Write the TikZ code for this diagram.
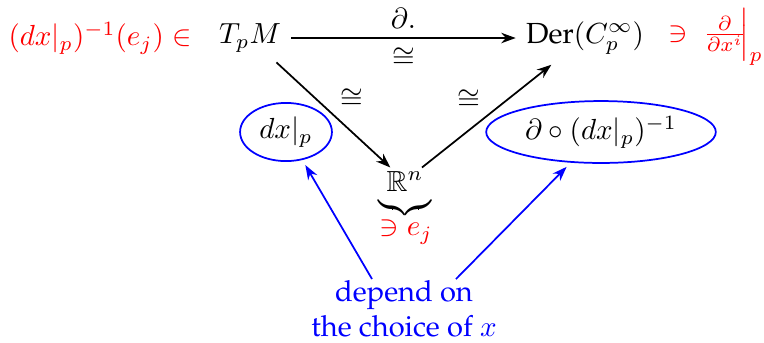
\documentclass[tikz,border=0pt]{standalone}
\usepackage[T1]{fontenc}
\renewcommand{\rmdefault}{ppl}
\usepackage{amsmath,amssymb}
\usetikzlibrary{arrows.meta,shapes.geometric}
\definecolor{myred}{RGB}{255,0,0}
\definecolor{myblue}{RGB}{0,0,255}
\begin{document}
\begin{tikzpicture}[x=0.344pt,y=-0.344pt,
  blk/.style={-{Stealth[length=5pt,width=3.6pt]},semithick},
  blu/.style={-{Stealth[length=5pt,width=3.6pt]},semithick,myblue},
  ell/.style={draw=myblue,semithick,ellipse,inner sep=0pt},
  lab/.style={inner sep=3pt}]
\useasboundingbox (0,0) rectangle (764,342);
\node (T) at (250,38) {$T_pM$};
\node (D) at (585,38) {$\text{Der}(C^\infty_p)$};
\node[inner sep=1pt] (R) at (405,181) {$\mathbb{R}^n$};
\node[myred] (L) at (100,38) {$(dx|_p)^{-1}(e_j)\in$};
\node[myred,anchor=west,inner sep=0pt] (Rt) at (668,37) {$\ni\ \frac{\partial}{\partial x^i}\mkern-4mu\Big|_p$};
\node (B) at (405,208) {$\underbrace{\hphantom{\;\mathbb{R}^{n}\;}}$};
\node[myred] (E) at (406,232) {$\ni e_j$};
\node[ell,minimum width=31.6pt,minimum height=20pt] (dx) at (286,132) {$dx|_p$};
\node[ell,minimum width=79pt,minimum height=21.3pt] (dd) at (601,132) {$\partial\circ(dx|_p)^{-1}$};
\draw[blk] (T) -- (D) node[midway,above,lab] {$\partial.$} node[midway,below,lab] {$\cong$};
\draw[blk] (T) -- (R) node[midway,above right,inner sep=2pt] {$\cong$};
\draw[blk] (R) -- (D) node[midway,above left,inner sep=2pt] {$\cong$};
\node[myblue,align=center] (txt) at (404,309) {depend on\\the choice of $x$};
\coordinate (s1) at (372,279);
\coordinate (s2) at (456,279);
\draw[blu,shorten >=2pt] (s1) -- (dx);
\draw[blu,shorten >=2pt] (s2) -- (dd);
\end{tikzpicture}
\end{document}
